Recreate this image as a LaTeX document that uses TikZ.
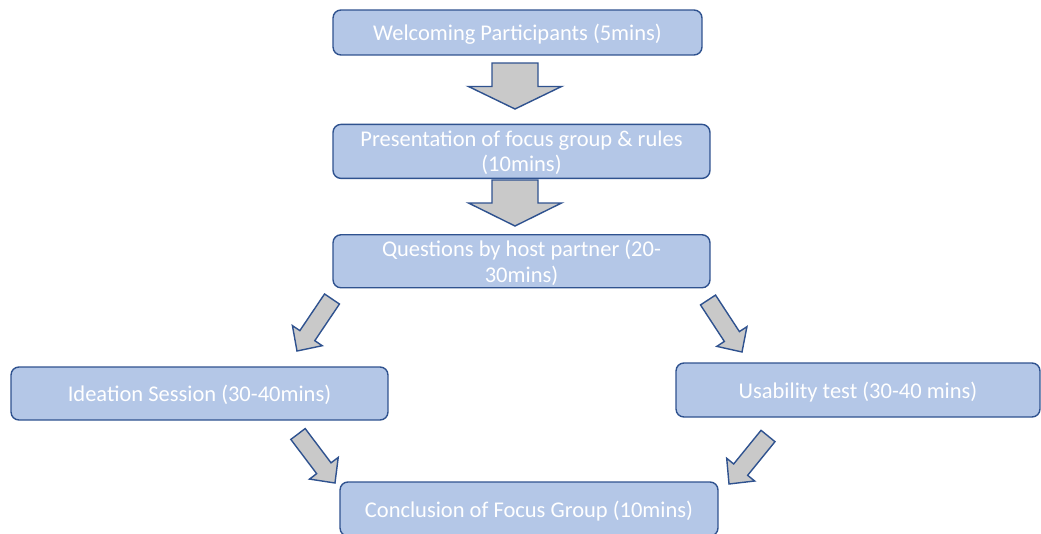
\documentclass[tikz,border=0pt]{standalone}
\usepackage{fontspec}
\setmainfont{Carlito}
\usepackage{tikz}
\usetikzlibrary{positioning}
\usetikzlibrary{calc}
\definecolor{boxfill}{HTML}{B4C7E7}
\definecolor{boxline}{HTML}{2F528F}
\definecolor{arrowfill}{HTML}{C9C9C9}
\tikzstyle{stage} = [draw = boxline, fill = boxfill, rectangle, rounded corners = 4.5pt, line width = 0.8pt, inner ysep = 0.5pt, text depth = 0pt, text = white, align = center, font = \fontsize{12.8}{14.5}\selectfont]
\tikzstyle{fatarrow} = [draw = boxline, fill = arrowfill, line width = 0.8pt, line join = miter]
% block arrow: from, to, shaft half width, head half width, head length
\newcommand{\blockarrow}[5]{%
	\coordinate (neck) at ($(#2)!#5!(#1)$);
	\draw[fatarrow] ($(#1)!#3!90:(#2)$) -- ($(neck)!#3!90:(#2)$) -- ($(neck)!#4!90:(#2)$) -- (#2)
	-- ($(neck)!#4!-90:(#2)$) -- ($(neck)!#3!-90:(#2)$) -- ($(#1)!#3!-90:(#2)$) -- cycle;
}

\begin{document}
\begin{tikzpicture}[x = 0.02cm, y = -0.02cm]
		\useasboundingbox (0,0) rectangle (1041,534);
		
		% Main column
		\node[stage, minimum width = 7.38cm, minimum height = 0.9cm] (welcome) at (517.5,32.5) {Welcoming Participants (5mins)};
		\node[stage, minimum width = 7.54cm, minimum height = 1.08cm, below = 1.36cm of welcome, xshift = 0.08cm] (present) {Presentation of focus group \& rules\\(10mins)};
		\node[stage, minimum width = 7.54cm, minimum height = 1.06cm, below = 1.1cm of present] (questions) {Questions by host partner (20-\\30mins)};
		
		% Two sessions
		\node[stage, minimum width = 7.54cm, minimum height = 1.06cm] (ideation) at (199.5,393.5) {Ideation Session (30-40mins)};
		\node[stage, minimum width = 7.28cm, minimum height = 1.08cm] (usability) at (858,390) {Usability test (30-40 mins)};
		
		% End
		\node[stage, minimum width = 7.56cm, minimum height = 1.08cm] (conclusion) at (529,509) {Conclusion of Focus Group (10mins)};
		
		% Arrow ends
		\coordinate (welcome-out) at (515,63);
		\coordinate (present-in) at (515,109);
		\coordinate (present-out) at (515,180);
		\coordinate (questions-in) at (515,226);
		\coordinate (questions-left) at (332,299);
		\coordinate (ideation-in) at (297,351);
		\coordinate (questions-right) at (708,300);
		\coordinate (usability-in) at (742,352);
		\coordinate (ideation-out) at (298,434);
		\coordinate (conclusion-left) at (335,483);
		\coordinate (usability-out) at (768,436);
		\coordinate (conclusion-right) at (729,484);
		
		% Connect all nodes defined above
		\blockarrow{welcome-out}{present-in}{0.46cm}{0.93cm}{0.45cm}
		\blockarrow{present-out}{questions-in}{0.46cm}{0.93cm}{0.46cm}
		\blockarrow{questions-left}{ideation-in}{0.18cm}{0.36cm}{0.37cm}
		\blockarrow{questions-right}{usability-in}{0.18cm}{0.36cm}{0.37cm}
		\blockarrow{ideation-out}{conclusion-left}{0.18cm}{0.36cm}{0.37cm}
		\blockarrow{usability-out}{conclusion-right}{0.18cm}{0.36cm}{0.37cm}
		
	\end{tikzpicture}
\end{document}
